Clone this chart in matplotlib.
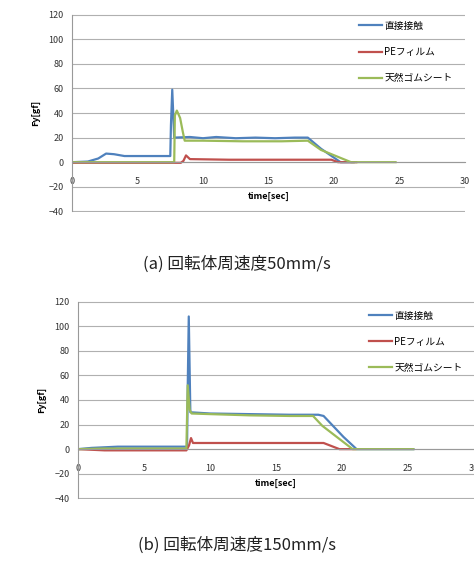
import numpy as np
import matplotlib.pyplot as plt

plt.rcParams['font.family'] = ['Noto Sans CJK JP', 'DejaVu Sans']

labels = ['直接接触', 'PEフィルム', '天然ゴムシート']
colors = ['#4F81BD', '#C0504D', '#9BBB59']

# (a) 50mm/s
a_blue_t = [0, 1.2, 2.0, 2.6, 3.2, 4.0, 5.5, 7.5, 7.55, 7.65, 7.8, 9.0, 10.0, 11.0, 12.5, 14.0, 15.5, 17.0, 18.0, 19.0, 20.5, 21.5]
a_blue_y = [0, 0.5, 3, 7, 6.5, 5, 5, 5, 30, 59, 20, 20.5, 19.5, 20.5, 19.5, 20, 19.5, 20, 20, 11, 0, 0]
a_red_t = [0, 8.3, 8.5, 8.7, 9.0, 12.0, 16.0, 19.8, 20.3, 21.7]
a_red_y = [-0.5, -0.5, 1, 5.5, 2.5, 2, 2, 2, 0, 0]
a_green_t = [0, 7.8, 7.85, 8.0, 8.25, 8.45, 8.6, 10.0, 13.0, 16.0, 18.0, 19.0, 21.3, 24.7]
a_green_y = [0, 0, 38, 42, 36, 25, 17.5, 17.5, 17, 17, 17.5, 10, 0, 0]

# (b) 150mm/s
b_blue_t = [0, 1.0, 3.0, 6.0, 8.25, 8.3, 8.38, 8.5, 10.0, 13.0, 16.0, 18.2, 18.6, 20.1, 21.1, 25.4]
b_blue_y = [0, 1, 2, 2, 2, 50, 108, 30, 29, 28.5, 28, 28, 27, 10, 0, 0]
b_red_t = [0, 2.0, 8.2, 8.4, 8.55, 8.7, 10.0, 14.0, 18.6, 19.8, 21.0]
b_red_y = [0, -1, -1, 3, 9, 5, 5, 5, 5, 0, 0]
b_green_t = [0, 2.0, 8.2, 8.3, 8.45, 8.6, 10.0, 13.0, 16.0, 17.8, 18.5, 20.8, 25.4]
b_green_y = [0, 0.5, 0.5, 52, 32, 29, 28.5, 27.5, 27, 27, 19, 0, 0]

xticks = [0, 5, 10, 15, 20, 25, 30]
yticks = [-40, -20, 0, 20, 40, 60, 80, 100, 120]

fig = plt.figure(figsize=(4.74, 5.61), dpi=100)
ax1 = fig.add_axes([0.152, 0.622, 0.829, 0.353])
ax2 = fig.add_axes([0.165, 0.1105, 0.835, 0.353])

panels = [
    (ax1, [(a_blue_t, a_blue_y), (a_red_t, a_red_y), (a_green_t, a_green_y)],
     (0.72, 0.985), '(a) 回転体周速度50mm/s', 0.513),
    (ax2, [(b_blue_t, b_blue_y), (b_red_t, b_red_y), (b_green_t, b_green_y)],
     (0.725, 0.97), '(b) 回転体周速度150mm/s', 0.012),
]

for ax, series, legpos, caption, cap_y in panels:
    for (t, y), c, lab in zip(series, colors, labels):
        ax.plot(t, y, color=c, lw=1.6, label=lab)
    ax.set_xlim(0, 30)
    ax.set_ylim(-40.6, 120.6)
    ax.set_xticks(xticks)
    ax.set_yticks(yticks)
    ax.grid(axis='y', color='#b0b0b0', lw=0.8)
    ax.set_axisbelow(True)
    for s in ['top', 'right']:
        ax.spines[s].set_visible(False)
    ax.spines['left'].set_color('#999999')
    ax.spines['left'].set_bounds(-40, 120)
    ax.spines['bottom'].set_position(('data', 0))
    ax.spines['bottom'].set_color('#999999')
    ax.tick_params(axis='x', length=0, pad=11, labelsize=6.5, colors='#333333')
    ax.tick_params(axis='y', length=0, pad=6, labelsize=6.5, colors='#333333')
    ax.set_xlabel('time[sec]', fontsize=6.5, fontweight='bold', labelpad=4)
    ax.set_ylabel('Fy[gf]', fontsize=6.5, fontweight='bold', labelpad=6)
    ax.legend(loc='upper left', bbox_to_anchor=legpos, frameon=False, fontsize=7,
              handlelength=2.4, handletextpad=0.2, labelspacing=1.65, borderaxespad=0)
    fig.text(0.5, cap_y, caption, ha='center', va='bottom', fontsize=12, color='#222222')

fig.savefig('out.png', dpi=100)
